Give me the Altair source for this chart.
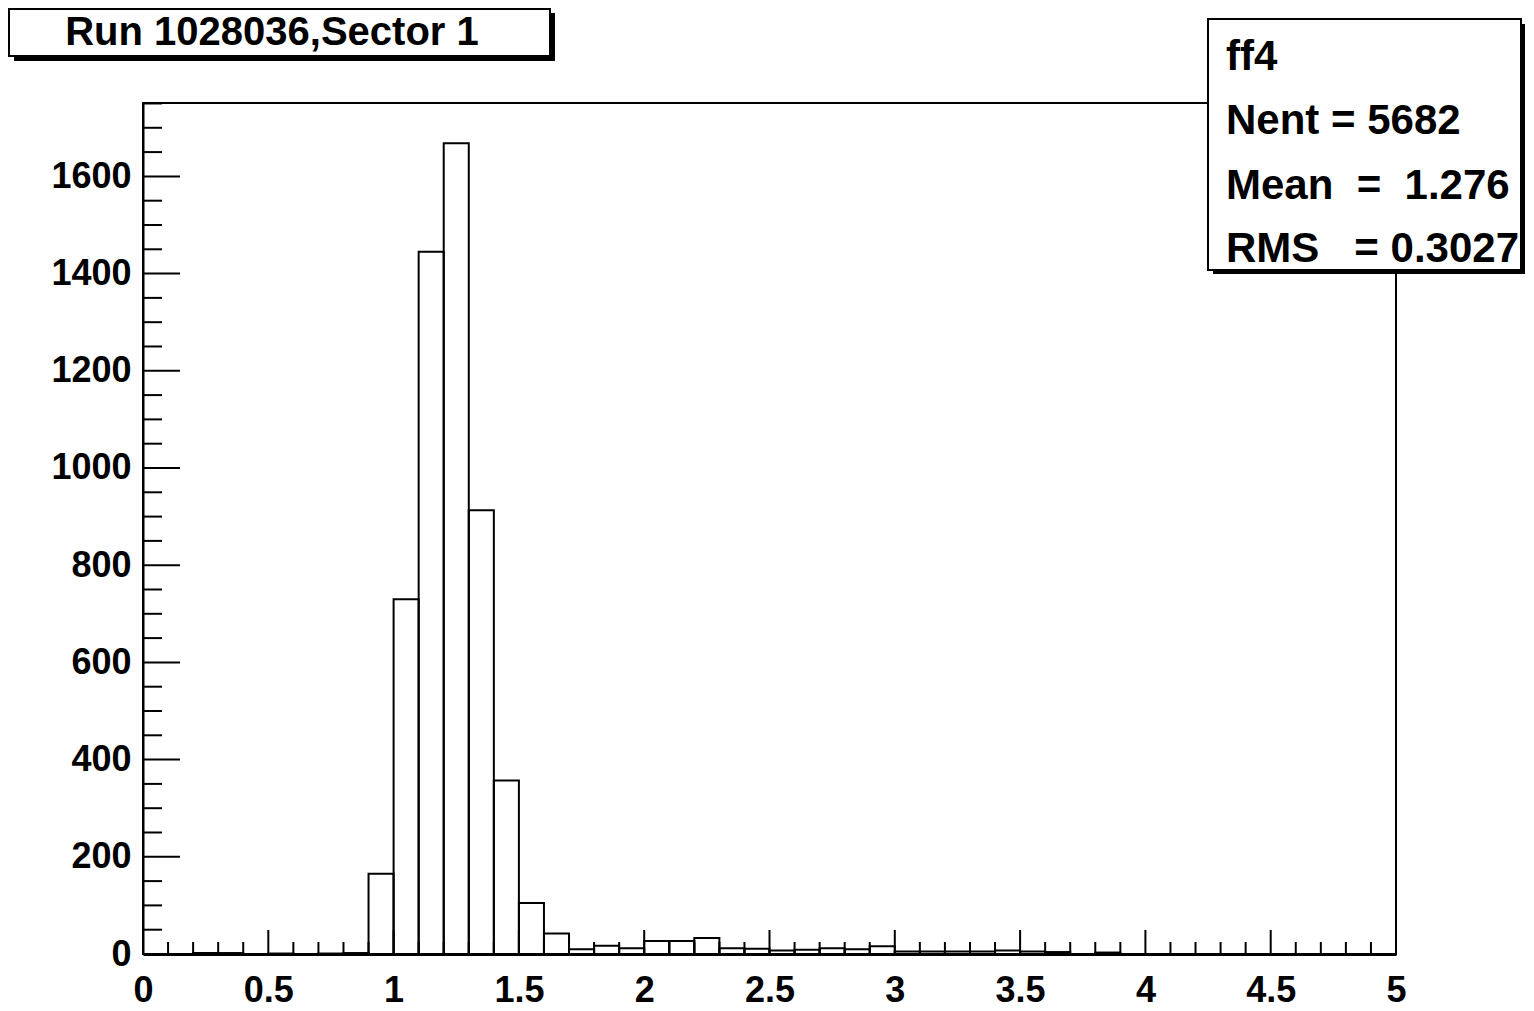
import altair as alt
import pandas as pd

# ---- data ----
bin_width = 0.1
counts = [0, 0, 2, 2, 0, 1, 0, 1, 2, 165,
          730, 1445, 1668, 913, 357, 105, 42, 10, 17, 12,
          27, 27, 33, 12, 11, 7, 9, 12, 10, 16,
          5, 5, 5, 5, 7, 5, 4, 0, 3, 0,
          0, 0, 0, 0, 0, 0, 0, 0, 0, 0]
bin_lo = [round(i * bin_width, 1) for i in range(len(counts))]
bin_hi = [round(v + bin_width, 1) for v in bin_lo]

x_major = [0, 0.5, 1, 1.5, 2, 2.5, 3, 3.5, 4, 4.5, 5]
x_minor = [round(i * 0.1, 1) for i in range(1, 50) if i % 5 != 0]
y_major = [0, 200, 400, 600, 800, 1000, 1200, 1400, 1600]
y_minor = [v for v in range(50, 1751, 50) if v % 200 != 0]

title_text = "Run 1028036,Sector 1"
stats_lines = ["ff4", "Nent = 5682", "Mean\u00a0\u00a0=\u00a0\u00a01.276", "RMS\u00a0\u00a0\u00a0= 0.3027"]

X_MAX = 5
Y_MAX = 1751

W, H = 1253, 851
FONT = "Liberation Sans"

hist = pd.DataFrame({"lo": bin_lo, "hi": bin_hi, "count": counts})

xs = alt.Scale(domain=[0, X_MAX], nice=False, zero=False)
ys = alt.Scale(domain=[0, Y_MAX], nice=False)

bars = alt.Chart(hist).mark_rect(fillOpacity=0, stroke="black", strokeWidth=2).encode(
    x=alt.X("lo:Q", scale=xs, axis=alt.Axis(values=x_major, format="~g", title=None,
                                            ticks=False, grid=False, domainWidth=3, domainColor="black",
                                            labelFont=FONT, labelFontWeight="bold", labelFontSize=36,
                                            labelColor="black", labelPadding=19, labelFlush=False)),
    x2="hi:Q",
    y=alt.Y("count:Q", scale=ys, axis=alt.Axis(values=y_major, format="d", title=None,
                                               ticks=False, grid=False, domainWidth=2, domainColor="black",
                                               labelFont=FONT, labelFontWeight="bold", labelFontSize=36,
                                               labelColor="black", labelPadding=12)),
    y2=alt.datum(0),
)

def xticks(vals, length):
    return alt.Chart(pd.DataFrame({"v": vals})).mark_rule(color="black", strokeWidth=2).encode(
        x=alt.X("v:Q", scale=xs), y=alt.value(H), y2=alt.value(H - length))

def yticks(vals, length):
    return alt.Chart(pd.DataFrame({"v": vals})).mark_rule(color="black", strokeWidth=2).encode(
        y=alt.Y("v:Q", scale=ys), x=alt.value(0), x2=alt.value(length))

one = pd.DataFrame({"k": [0]})

def box(x1, y1, x2, y2, fill, stroke=None):
    kw = dict(fill=fill)
    if stroke:
        kw.update(stroke=stroke, strokeWidth=2)
    return alt.Chart(one).mark_rect(**kw).encode(
        x=alt.value(x1), x2=alt.value(x2), y=alt.value(y1), y2=alt.value(y2))

def label(txt, x, y, size, align="left"):
    return alt.Chart(one).mark_text(text=txt, font=FONT, fontWeight="bold", fontSize=size,
                                    color="black", align=align, baseline="alphabetic").encode(
        x=alt.value(x), y=alt.value(y))

OX, OY = 143, 103  # plot origin in page pixels (after 8px margin)

def px(v):
    return v - OX

def py(v):
    return v - OY

layers = [
    bars,
    xticks(x_major, 24), xticks(x_minor, 12),
    yticks(y_major, 37), yticks(y_minor, 19),
    # title box
    box(px(14), py(13), px(555), py(61), "black"),
    box(px(9), py(9), px(550), py(56), "white", "black"),
    label(title_text, px(272), py(45), 40, align="center"),
    # stats box
    box(px(1213), py(24), px(1525), py(274), "black"),
    box(px(1208), py(19), px(1521), py(270), "white", "black"),
    label(stats_lines[0], px(1226), py(70), 42),
    label(stats_lines[1], px(1226), py(134), 42),
    label(stats_lines[2], px(1226), py(199), 42),
    label(stats_lines[3], px(1226), py(262), 42),
]

chart = alt.layer(*layers).properties(
    width=W, height=H,
    padding={"left": 135, "top": 95, "right": 130, "bottom": 56},
    autosize=alt.AutoSizeParams(type="none"),
    background="white",
).configure_view(stroke="black", strokeWidth=2)

chart.save("out.html", embed_options={"renderer": "svg", "actions": False})
